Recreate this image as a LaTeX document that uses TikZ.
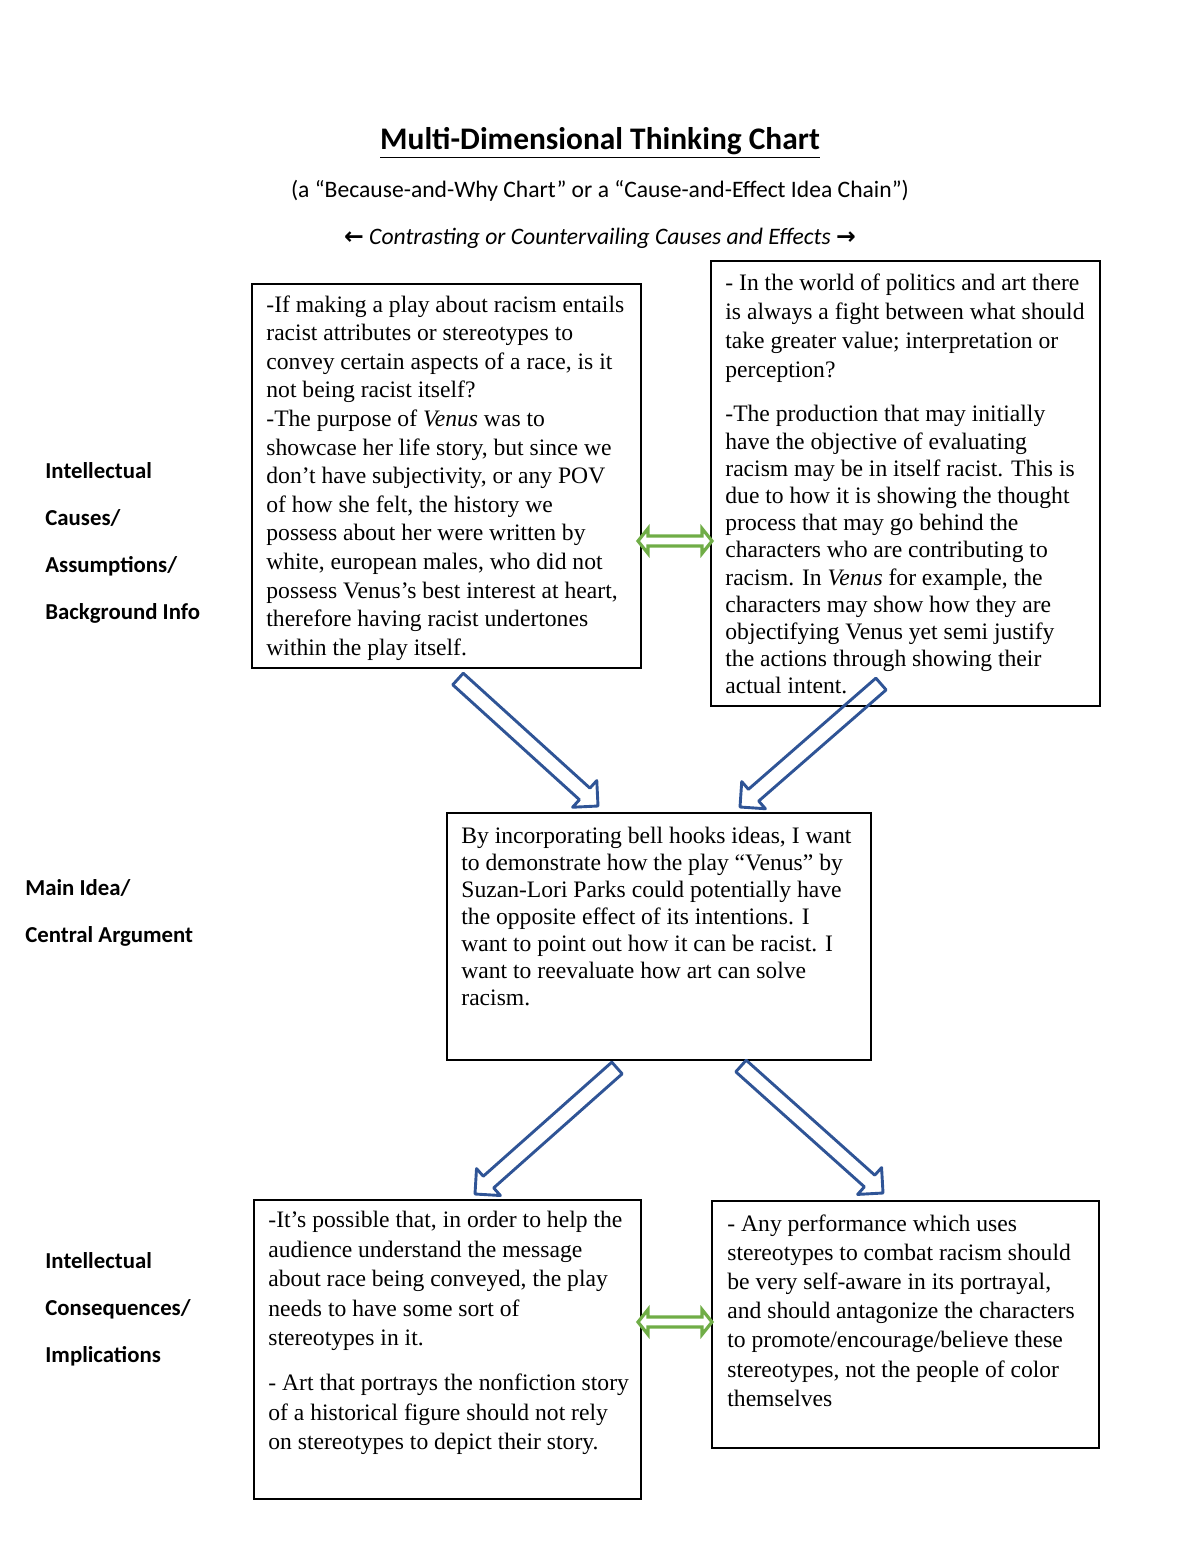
\documentclass[tikz,border=0pt]{standalone}
\usepackage{fontspec}
\setmainfont{Liberation Serif}
\newfontfamily\labelfont{Carlito}
\newfontfamily\arrowfont{DejaVu Sans}
\usepackage{tikz}
\usetikzlibrary{calc,fit,positioning}
\definecolor{chartblue}{RGB}{47,84,150}
\definecolor{chartgreen}{RGB}{112,173,71}

% outlined block arrow from #1 (tail) to #2 (tip)
\newcommand{\blockarrow}[2]{%
  \path ($(#2)!9pt!(#1)$) coordinate (#2-m);
  \draw[bluearrow] ($(#1)!3.9pt!90:(#2)$) -- ($(#2-m)!3.9pt!90:(#2)$)
    -- ($(#2-m)!9pt!90:(#2)$) -- (#2) -- ($(#2-m)!9pt!-90:(#2)$)
    -- ($(#2-m)!3.9pt!-90:(#2)$) -- ($(#1)!3.9pt!-90:(#2)$) -- cycle;}
% outlined two-way arrow between #1 and #2
\newcommand{\twowayarrow}[2]{%
  \path ($(#1)!5pt!(#2)$) coordinate (#1-m) ($(#2)!5pt!(#1)$) coordinate (#2-m);
  \draw[greenarrow] (#1) -- ($(#1-m)!6.25pt!90:(#2)$) -- ($(#1-m)!2.5pt!90:(#2)$)
    -- ($(#2-m)!2.5pt!90:(#2)$) -- ($(#2-m)!6.25pt!90:(#2)$) -- (#2)
    -- ($(#2-m)!6.25pt!-90:(#2)$) -- ($(#2-m)!2.5pt!-90:(#2)$)
    -- ($(#1-m)!2.5pt!-90:(#2)$) -- ($(#1-m)!6.25pt!-90:(#2)$) -- cycle;}

\begin{document}
\begin{tikzpicture}[x=0.5pt,y=-0.5pt,
    box/.style={draw,line width=1.2pt,inner sep=0pt},
    txt/.style={anchor=north west,inner sep=0pt,align=left},
    lab/.style={anchor=north west,inner sep=0pt,align=left,font=\labelfont\bfseries\fontsize{11.4}{23.5}\selectfont},
    bluearrow/.style={draw=chartblue,line width=1.45pt,line join=round},
    greenarrow/.style={draw=chartgreen,fill=white,line width=1.6pt,line join=miter}]
		\useasboundingbox (0,0) rectangle (1200,1553);
		
		% headings
		\node[anchor=base,inner sep=0pt,font=\labelfont\bfseries\fontsize{15.7}{18}\selectfont] (title) at (600,149) {\underline{Multi-Dimensional Thinking Chart}};
		\node[anchor=base,inner sep=0pt,font=\labelfont\fontsize{11.8}{13}\selectfont] (subtitle) at (600,197) {(a “Because-and-Why Chart” or a “Cause-and-Effect Idea Chain”)};
		\node[anchor=base,inner sep=0pt,font=\labelfont\itshape\fontsize{11.8}{13}\selectfont] (contrast) at (600,244) {{\arrowfont\bfseries ←} Contrasting or Countervailing Causes and Effects {\arrowfont\bfseries →}};
		
		% row labels
		\node[lab] (causes) at (45,462) {Intellectual\\Causes/\\Assumptions/\\Background Info};
		\node[lab] (main) at (25,879) {Main Idea/\\Central Argument};
		\node[lab] (conseq) at (45,1252) {Intellectual\\Consequences/\\Implications};
		
		% boxes
		\node[box,fit={(252,284) (641,668)}] (b1) {};
		\node[box,fit={(711,261) (1100,706)}] (b2) {};
		\node[box,fit={(447,813) (871,1060)}] (b3) {};
		\node[box,fit={(254,1200) (641,1499)}] (b4) {};
		\node[box,fit={(712,1201) (1099,1448)}] (b5) {};
		
		\node[txt,font=\fontsize{11.8}{14.3}\selectfont] (t1) at (266,295) {-If making a play about racism entails\\
racist attributes or stereotypes to\\
convey certain aspects of a race, is it\\
not being racist itself?\\
-The purpose of \emph{Venus} was to\\
showcase her life story, but since we\\
don’t have subjectivity, or any POV\\
of how she felt, the history we\\
possess about her were written by\\
white, european males, who did not\\
possess Venus’s best interest at heart,\\
therefore having racist undertones\\
within the play itself.};
		\node[txt,font=\fontsize{11.8}{13.6}\selectfont] (t2) at (725,273) {- In the world of politics and art there\\[1pt]
is always a fight between what should\\[1pt]
take greater value; interpretation or\\[1pt]
perception?\\[8.5pt]
-The production that may initially\\
have the objective of evaluating\\
racism may be in itself racist. This is\\
due to how it is showing the thought\\
process that may go behind the\\
characters who are contributing to\\
racism. In \emph{Venus} for example, the\\
characters may show how they are\\
objectifying Venus yet semi justify\\
the actions through showing their\\
actual intent.};
		\node[txt,font=\fontsize{11.8}{13.5}\selectfont] (t3) at (461,827) {By incorporating bell hooks ideas, I want\\
to demonstrate how the play “Venus” by\\
Suzan-Lori Parks could potentially have\\
the opposite effect of its intentions. I\\
want to point out how it can be racist. I\\
want to reevaluate how art can solve\\
racism.};
		\node[txt,font=\fontsize{11.8}{14.75}\selectfont] (t4) at (268,1211) {-It’s possible that, in order to help the\\
audience understand the message\\
about race being conveyed, the play\\
needs to have some sort of\\
stereotypes in it.\\[7.75pt]
- Art that portrays the nonfiction story\\
of a historical figure should not rely\\
on stereotypes to depict their story.};
		\node[txt,font=\fontsize{11.8}{14.6}\selectfont] (t5) at (727,1214) {- Any performance which uses\\
stereotypes to combat racism should\\
be very self-aware in its portrayal,\\
and should antagonize the characters\\
to promote/encourage/believe these\\
stereotypes, not the people of color\\
themselves};
		
		% block arrows
		\coordinate (a1s) at (458,679);
		\coordinate (a1e) at (598,806);
		\coordinate (a2s) at (881,684);
		\coordinate (a2e) at (740,807);
		\coordinate (a3s) at (617,1068);
		\coordinate (a3e) at (475,1194);
		\coordinate (a4s) at (741,1066);
		\coordinate (a4e) at (883,1193);
		\blockarrow{a1s}{a1e}
		\blockarrow{a2s}{a2e}
		\blockarrow{a3s}{a3e}
		\blockarrow{a4s}{a4e}
		
		% two-way arrows
		\coordinate (g1a) at (638,541);
		\coordinate (g1b) at (712,541);
		\coordinate (g2a) at (638,1322);
		\coordinate (g2b) at (712,1322);
		\twowayarrow{g1a}{g1b}
		\twowayarrow{g2a}{g2b}
\end{tikzpicture}
\end{document}
